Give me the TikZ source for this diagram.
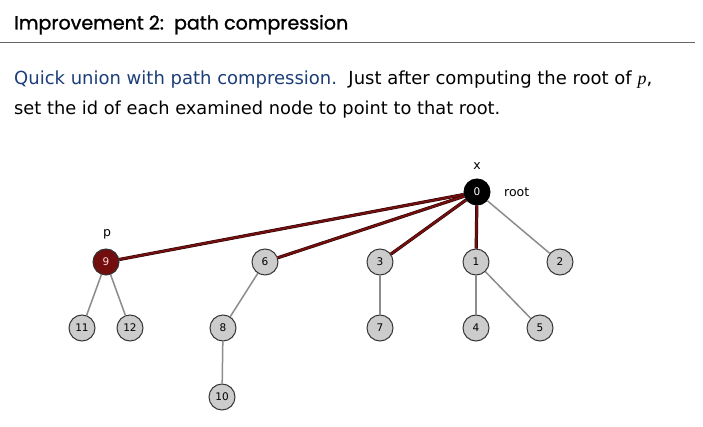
\documentclass[tikz,border=0pt]{standalone}
\usepackage{fontspec}
\setmainfont{DejaVu Sans}
\newfontfamily\titlefont[FakeBold=1.2]{Poppins}
\definecolor{redge}{RGB}{115,14,14}
\definecolor{gedge}{RGB}{140,140,140}
\definecolor{nfill}{RGB}{204,204,204}
\definecolor{nborder}{RGB}{55,55,55}
\definecolor{bluetext}{RGB}{28,62,120}
\definecolor{rulegray}{RGB}{100,100,100}
\tikzset{
  tnode/.style={circle, draw=nborder, line width=1pt, fill=nfill, minimum size=26pt, inner sep=0pt, font=\fontsize{10.5}{10.5}\selectfont},
  rootnode/.style={tnode, fill=black, draw=black, text=white},
  pnode/.style={tnode, fill=redge, draw=black!80, text=red!15},
  redline/.style={draw=black!70!redge, line width=0.5pt, double=redge, double distance=2.2pt},
  grayline/.style={draw=gedge, line width=1.5pt},
  lbl/.style={font=\fontsize{12.5}{12.5}\selectfont, inner sep=0pt}
}
\begin{document}
\begin{tikzpicture}[x=1pt,y=-1pt]
\useasboundingbox (0,0) rectangle (703,427);
\fill[white] (0,0) rectangle (703,427);
\node[anchor=base west, inner sep=0pt] (title) at (14,29.5) {\resizebox{334pt}{!}{\titlefont Improvement 2:\ \ path compression}};
\coordinate (rl) at (0,42.5);
\coordinate (rr) at (695,42.5);
\draw[rulegray, line width=1.5pt] (rl) -- (rr);
\node[anchor=base west, inner sep=0pt] (l1) at (14,85) {\resizebox{638pt}{!}{\textcolor{bluetext}{Quick union with path compression.}\ \ Just after computing the root of \textit{\fontspec{Liberation Serif}p},}};
\node[anchor=base west, inner sep=0pt] (l2) at (14,115) {\resizebox{486pt}{!}{set the id of each examined node to point to that root.}};
% nodes
\node[rootnode] (n0) at (477,192) {0};
\node[pnode] (n9) at (106,262) {9};
\node[tnode] (n6) at (265,262) {6};
\node[tnode] (n3) at (380,262) {3};
\node[tnode] (n1) at (476,262) {1};
\node[tnode] (n2) at (560,262) {2};
\node[tnode] (n11) at (82,328) {11};
\node[tnode] (n12) at (130,328) {12};
\node[tnode] (n8) at (223,328) {8};
\node[tnode] (n7) at (380,328) {7};
\node[tnode] (n4) at (476,328) {4};
\node[tnode] (n5) at (540,328) {5};
\node[tnode] (n10) at (222,397) {10};
% labels
\node[lbl] (lx) at (477,166) {x};
\node[lbl, anchor=west] (lroot) at (504,192) {root};
\node[lbl] (lp) at (107,234) {p};
% edges
\draw[redline] (n9) -- (n0);
\draw[redline] (n6) -- (n0);
\draw[redline] (n3) -- (n0);
\draw[redline] (n1) -- (n0);
\draw[grayline] (n2) -- (n0);
\draw[grayline] (n9) -- (n11);
\draw[grayline] (n9) -- (n12);
\draw[grayline] (n6) -- (n8);
\draw[grayline] (n8) -- (n10);
\draw[grayline] (n3) -- (n7);
\draw[grayline] (n1) -- (n4);
\draw[grayline] (n1) -- (n5);
\end{tikzpicture}
\end{document}
